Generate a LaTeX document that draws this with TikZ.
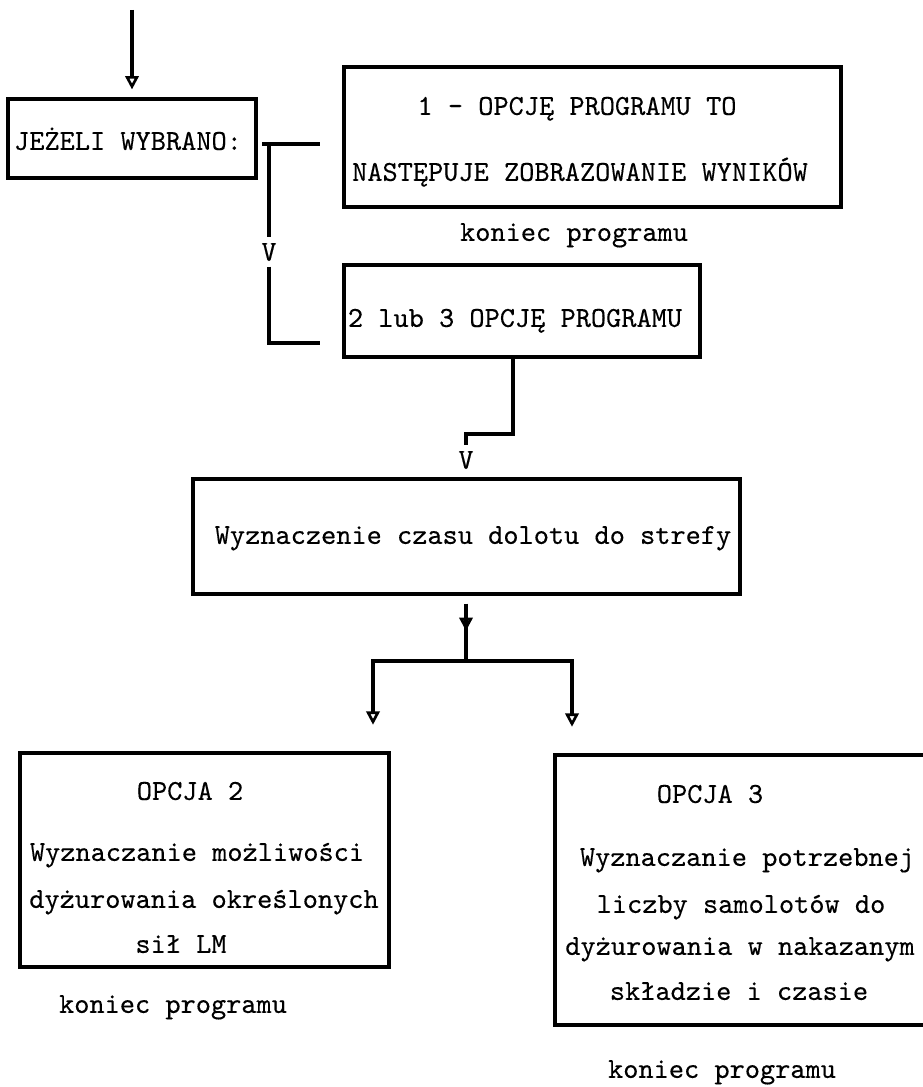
\documentclass[tikz,border=0pt]{standalone}
\usepackage{fontspec}
\newfontfamily\typew{lmmono10-regular.otf}[FakeBold=0.3]
\usetikzlibrary{arrows.meta,fit,decorations.markings}
\tikzset{
	tri/.tip={Triangle[open, length=10pt, width=10pt, line width=2pt]},
	box/.style={draw, line width=2.4pt, inner sep=0pt},
	conn/.style={line width=2.4pt},
	txt/.style={font=\typew\fontsize{21.7}{26}\selectfont, anchor=mid, inner sep=0pt},
	vmark/.style={font=\typew\fontsize{21.7}{26}\selectfont, inner xsep=0pt, inner ysep=4pt},
	midarr/.style={postaction={decorate}, decoration={markings, mark=at position #1 with {\arrow{tri}}}}
}
\begin{document}
\begin{tikzpicture}[x=0.75pt, y=-0.75pt]
	\useasboundingbox (0,0) rectangle (923,1087);
	\node[box, fit={(8,99) (256,178)}] (jez) {};
	\node[box, fit={(344,67) (841,207)}] (opt1) {};
	\node[box, fit={(344,265) (700,357)}] (opt23) {};
	\node[box, fit={(193,479) (740,594)}] (dolot) {};
	\node[box, fit={(20,753) (389,967)}] (opc2) {};
	\node[box, fit={(555,755) (960,1025)}] (opc3) {};

	\node[txt] (jezt) at (128,147) {JEŻELI WYBRANO:};
	\node[txt] (opt1a) at (577,112) {1 - OPCJĘ PROGRAMU TO};
	\node[txt] (opt1b) at (580,178) {NASTĘPUJE ZOBRAZOWANIE WYNIKÓW};
	\node[txt] (end1) at (574,238) {koniec programu};
	\node[txt] (opt23t) at (515,324) {2 lub 3 OPCJĘ PROGRAMU};
	\node[txt] (dolott) at (473,541) {Wyznaczenie czasu dolotu do strefy};

	\node[txt] (opc2a) at (190,797) {OPCJA 2};
	\node[txt] (opc2b) at (197,858) {Wyznaczanie możliwości};
	\node[txt] (opc2c) at (204,905) {dyżurowania określonych};
	\node[txt] (opc2d) at (181,950) {sił LM};
	\node[txt] (end2) at (173,1010) {koniec programu};

	\node[txt] (opc3a) at (710,800) {OPCJA 3};
	\node[txt] (opc3b) at (747,863) {Wyznaczanie potrzebnej};
	\node[txt] (opc3c) at (741,910) {liczby samolotów do};
	\node[txt] (opc3d) at (740,952) {dyżurowania w nakazanym};
	\node[txt] (opc3e) at (739,997) {składzie i czasie};
	\node[txt] (end3) at (722,1075) {koniec programu};

	\node[vmark] (v1) at (269,252) {V};
	\node[vmark] (v2) at (466,460) {V};

	\coordinate (top) at (132,10);
	\coordinate (br) at (262,144);
	\coordinate (bk) at (269,144);
	\coordinate (bl) at (269,343);
	\coordinate (c1) at (513,434);
	\coordinate (split) at (466,661);
	\coordinate (sl) at (373,661);
	\coordinate (sr) at (572,661);

	\draw[conn, -tri, shorten >=6pt] (top) -- (jez.north);
	\draw[conn, shorten >=16.5pt] (br) -- (br -| opt1.west);
	\draw[conn] (bk) -- (v1.north);
	\draw[conn, shorten >=16.5pt] (v1.south) -- (bl) -- (bl -| opt23.west);
	\draw[conn] (c1 |- opt23.south) -- (c1) -| (v2.north);
	\draw[conn, midarr=0.54, shorten <=6pt] (dolot.south -| split) -- (split);
	\draw[conn, line cap=rect] (sl) -- (sr);
	\foreach \s/\b in {sl/opc2, sr/opc3}{
		\draw[conn, -tri, shorten >=20pt] (\s) -- (\s |- \b.north);
	}
\end{tikzpicture}
\end{document}
